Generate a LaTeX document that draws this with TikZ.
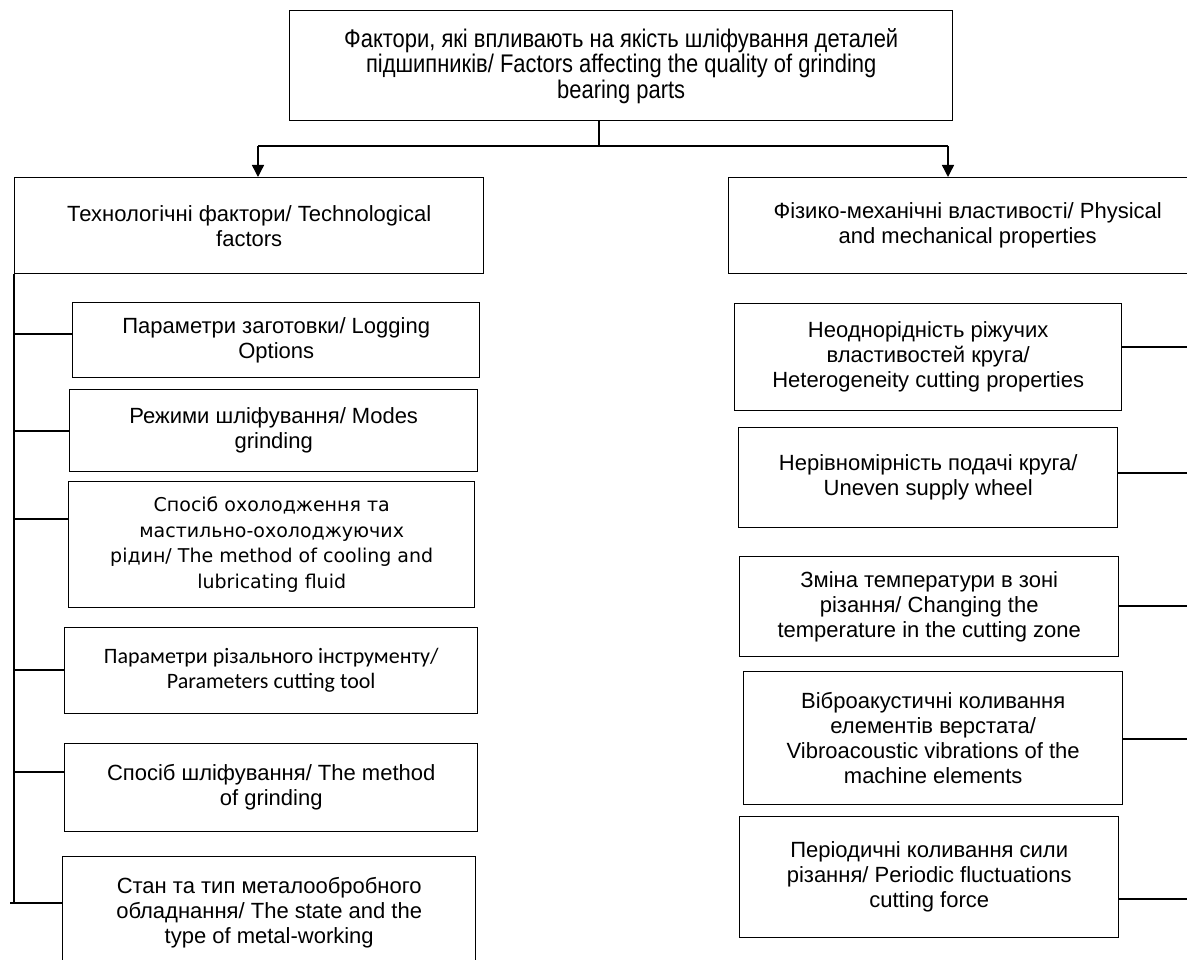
\documentclass[tikz,border=0pt]{standalone}
\usepackage{fontspec}
\setmainfont{Liberation Sans}
\newfontfamily\narrowfont[FakeStretch=0.86]{Liberation Sans}
\newfontfamily\verdfont{DejaVu Sans}
\newfontfamily\califont{Carlito}
\usetikzlibrary{arrows.meta,positioning}

\tikzset{
  box/.style={draw, line width=1.4pt, align=center, inner sep=0pt, anchor=north west,
    font=\fontsize{22}{25}\selectfont},
  link/.style={line width=1.4pt},
  down/.style={link, -{Triangle[length=12pt,width=12pt]}},
}

\begin{document}
\begin{tikzpicture}[x=1pt, y=-1pt]
   \useasboundingbox (0,0) rectangle (1187,960);
   % main factor
   \node[box, minimum width=663pt, minimum height=110pt,
         font=\narrowfont\fontsize{25.5}{25.5}\selectfont] (top) at (289,10)
     {Фактори, які впливають на якість шліфування деталей\\
      підшипників/ Factors affecting the quality of grinding\\
      bearing parts};
   % two groups
   \node[box, minimum width=469pt, minimum height=96pt] (tech) at (14,177)
     {Технологічні фактори/ Technological\\ factors};
   \node[box, minimum width=478pt, minimum height=96pt] (phys) at (728,177)
     {Фізико-механічні властивості/ Physical\\ and mechanical properties};
   % technological factors
   \node[box, minimum width=407pt, minimum height=75pt] (l1) at (72,302)
     {Параметри заготовки/ Logging\\ Options};
   \node[box, minimum width=408pt, minimum height=82pt] (l2) at (69,389)
     {Режими шліфування/ Modes\\ grinding};
   \node[box, minimum width=406pt, minimum height=126pt,
         font=\verdfont\fontsize{19}{25.5}\selectfont] (l3) at (68,481)
     {Спосіб охолодження та\\ мастильно-охолоджуючих\\
      рідин/ The method of cooling and\\ lubricating fluid};
   \node[box, minimum width=413pt, minimum height=86pt,
         font=\califont\fontsize{22}{25}\selectfont] (l4) at (64,627)
     {Параметри різального інструменту/\\ Parameters cutting tool};
   \node[box, minimum width=413pt, minimum height=88pt] (l5) at (64,743)
     {Спосіб шліфування/ The method\\ of grinding};
   \node[box, minimum width=413pt, minimum height=112pt] (l6) at (62,856)
     {Стан та тип металообробного\\ обладнання/ The state and the\\
      type of metal-working};
   % physical and mechanical properties
   \node[box, minimum width=387pt, minimum height=107pt] (r1) at (734,303)
     {Неоднорідність ріжучих\\ властивостей круга/\\
      Heterogeneity cutting properties};
   \node[box, minimum width=379pt, minimum height=100pt] (r2) at (738,427)
     {Нерівномірність подачі круга/\\ Uneven supply wheel};
   \node[box, minimum width=379pt, minimum height=100pt] (r3) at (739,556)
     {Зміна температури в зоні\\ різання/ Changing the\\
      temperature in the cutting zone};
   \node[box, minimum width=379pt, minimum height=133pt] (r4) at (743,671)
     {Віброакустичні коливання\\ елементів верстата/\\
      Vibroacoustic vibrations of the\\ machine elements};
   \node[box, minimum width=379pt, minimum height=121pt] (r5) at (739,816)
     {Періодичні коливання сили\\ різання/ Periodic fluctuations\\
      cutting force};

   \coordinate (stem) at (599,146);
   \coordinate (jl) at (258,146);
   \coordinate (jr) at (948,146);
   \coordinate (lend) at (10,903);
   \coordinate (redge) at (1187,0);

   \draw[link] (stem |- top.south) -- (stem);
   \draw[link] (jl) -- (jr);
   \draw[down] (jl) -- (jl |- tech.north);
   \draw[down] (jr) -- (jr |- phys.north);

   \draw[link] (tech.south west) -- (tech.south west |- lend);
   \foreach \n/\y in {l1/334, l2/431, l3/519, l4/670, l5/772}
     \draw[link] (\n.west |- 0,\y) -- (tech.west |- 0,\y);
   \draw[link] (l6.west |- lend) -- (lend);
   \foreach \n/\y in {r1/347, r2/473, r3/606, r4/739, r5/899}
     \draw[link] (\n.east |- 0,\y) -- (redge |- 0,\y);
\end{tikzpicture}
\end{document}
